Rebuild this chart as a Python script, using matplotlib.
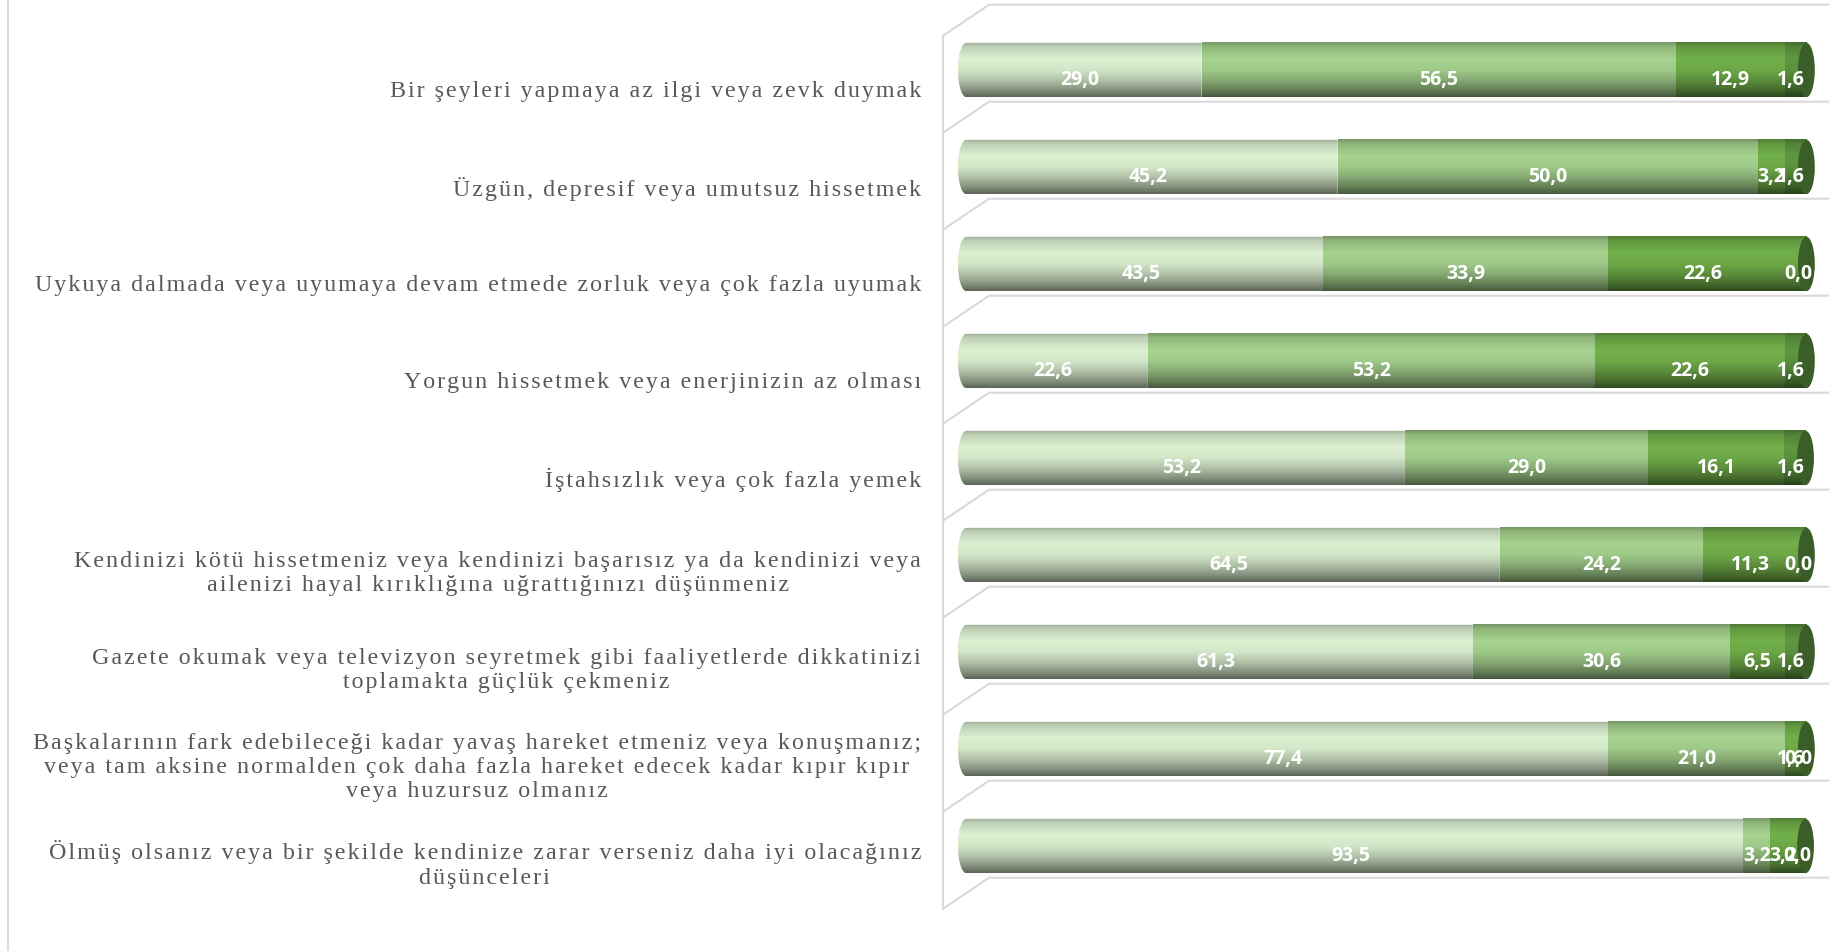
import numpy as np
import matplotlib.pyplot as plt
from matplotlib.patches import Ellipse, Polygon
from matplotlib.lines import Line2D
from matplotlib.colors import to_rgb

# category labels (top to bottom)
categories = [
    "Bir şeyleri yapmaya az ilgi veya zevk duymak",
    "Üzgün, depresif veya umutsuz hissetmek",
    "Uykuya dalmada veya uyumaya devam etmede zorluk veya çok fazla uyumak",
    "Yorgun hissetmek veya enerjinizin az olması",
    "İştahsızlık veya çok fazla yemek",
    "Kendinizi kötü hissetmeniz veya kendinizi başarısız ya da kendinizi veya\n"
    "ailenizi hayal kırıklığına uğrattığınızı düşünmeniz",
    "Gazete okumak veya televizyon seyretmek gibi faaliyetlerde dikkatinizi\n"
    "toplamakta güçlük çekmeniz",
    "Başkalarının fark edebileceği kadar yavaş hareket etmeniz veya konuşmanız;\n"
    "veya tam aksine normalden çok daha fazla hareket edecek kadar kıpır kıpır\n"
    "veya huzursuz olmanız",
    "Ölmüş olsanız veya bir şekilde kendinize zarar verseniz daha iyi olacağınız\n"
    "düşünceleri",
]

# percentages for the four answer groups
s1 = [29.0, 45.2, 43.5, 22.6, 53.2, 64.5, 61.3, 77.4, 93.5]
s2 = [56.5, 50.0, 33.9, 53.2, 29.0, 24.2, 30.6, 21.0, 3.2]
s3 = [12.9, 3.2, 22.6, 22.6, 16.1, 11.3, 6.5, 1.6, 3.2]
s4 = [1.6, 1.6, 0.0, 1.6, 1.6, 0.0, 1.6, 0.0, 0.0]

series = [s1, s2, s3, s4]
colors = ['#dcf1d1', '#a6d38f', '#72b04a', '#5e9841']
cap_color = '#3b5e29'
grid_color = '#d9d9d9'

# vertical shading profile of the cylinders
prof_t = [0.0, 0.08, 0.3, 0.5, 0.7, 0.88, 1.0]
prof_v = [0.72, 0.86, 1.0, 0.96, 0.8, 0.6, 0.42]
tt = np.linspace(0, 1, 80)
vv = np.interp(tt, prof_t, prof_v)


def shade(color):
    c = np.array(to_rgb(color))
    return np.clip(c[None, :] * vv[:, None], 0, 1)[:, None, :]


def spaced(text):
    # letter spaced look of the original labels
    return '\n'.join('\u200a'.join(line) for line in text.split('\n'))


W, H = 1829, 951
fig = plt.figure(figsize=(W / 100, H / 100), dpi=100)
ax = fig.add_axes([0, 0, 1, 1])
ax.axis('off')

# pixel -> data mapping
px0, px100 = 958, 1798
ppu = (px100 - px0) / 100.0
pitch, yc0 = 97.0, 70.0
xlim = (-px0 / ppu, (W - px0) / ppu)
ylim = ((H - yc0) / pitch, -yc0 / pitch)

n = len(categories)
ypos = np.arange(n)
bar_h = 0.56
end_w = 2.0  # width of the elliptic end faces (data units)

# 3d wall / floor lines
back_dx, front_dx = 3.69, -1.79
for k in range(n + 1):
    yb = k - 0.673
    ax.plot([front_dx, back_dx, xlim[1]], [yb + 0.32, yb, yb],
            color=grid_color, lw=1.5, zorder=0, solid_capstyle='butt')
ax.plot([front_dx, front_dx], [-0.673 + 0.32, n - 0.673 + 0.32],
        color=grid_color, lw=1.5, zorder=0)
fig.add_artist(Line2D([8 / W, 8 / W], [0, 1], color=grid_color, lw=1.5))

# stacked cylinder segments
totals = np.sum(series, axis=0)
last_idx = [max(k for k in range(len(series)) if series[k][i] > 0) for i in range(n)]
half = np.linspace(0, np.pi, 60)
left = np.zeros(n)
for k, vals in enumerate(series):
    vals = np.array(vals)
    bars = ax.barh(ypos, vals, left=left, height=bar_h, color=colors[k], zorder=2)
    for i, (b, v) in enumerate(zip(bars, vals)):
        x0, y0, w, h = b.get_x(), b.get_y(), b.get_width(), b.get_height()
        if w <= 0:
            continue
        x1 = x0 + w
        if k == last_idx[i]:
            x1 = totals[i] + end_w / 2
        im = ax.imshow(shade(colors[k]), extent=(x0, x1, y0 + h, y0),
                       aspect='auto', interpolation='bilinear', zorder=2)
        if k == 0:
            # rounded left end
            cx = x0 + end_w / 2
            outline = np.vstack([[x1, y0], [cx, y0],
                                 np.column_stack([cx - (end_w / 2) * np.sin(half),
                                                  y0 + h / 2 - (h / 2) * np.cos(half)]),
                                 [cx, y0 + h], [x1, y0 + h]])
            poly = Polygon(outline, closed=True, facecolor='none', edgecolor='none')
            ax.add_patch(poly)
            im.set_clip_path(poly)
            b.set_clip_path(poly)
    left = left + vals

# right end caps
for y, tot in zip(ypos, totals):
    ax.add_patch(Ellipse((tot + end_w / 2, y), end_w, bar_h, facecolor=cap_color,
                         edgecolor='none', zorder=3))

# value labels
left = np.zeros(n)
for k, vals in enumerate(series):
    for y, l, v in zip(ypos, left, vals):
        ax.text(l + v / 2, y + 0.105, f"{v:.1f}".replace('.', ','),
                ha='center', va='center', color='white', fontsize=14,
                fontweight='bold', family='Open Sans', zorder=10)
    left = left + np.array(vals)

# category labels
for y, lab in zip(ypos, categories):
    dy = 0.19 if '\n' in lab else 0.225
    ax.text(-4.40, y + dy, spaced(lab), ha='right', va='center',
            multialignment='center', color='#595959', fontsize=17.3,
            family=['Liberation Serif', 'DejaVu Serif'], linespacing=1.2)

ax.set_xlim(*xlim)
ax.set_ylim(*ylim)

fig.savefig('out.png', dpi=100)
